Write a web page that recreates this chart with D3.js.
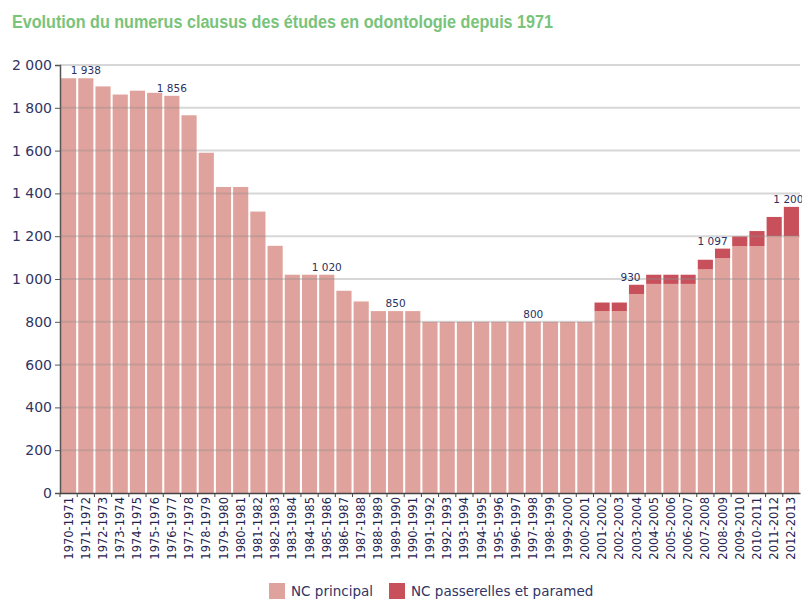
<!DOCTYPE html>
<html>
<head>
<meta charset="utf-8">
<script src="https://cdn.jsdelivr.net/npm/d3@7"></script>
<style>
  body { margin: 0; background: #fff; }
  svg { display: block; }
</style>
</head>
<body>
<div id="chart"></div>
<script>
// school years shown on the x axis
const years = [
  '1970-1971','1971-1972','1972-1973','1973-1974','1974-1975','1975-1976','1976-1977',
  '1977-1978','1978-1979','1979-1980','1980-1981','1981-1982','1982-1983','1983-1984',
  '1984-1985','1985-1986','1986-1987','1987-1988','1988-1989','1989-1990','1990-1991',
  '1991-1992','1992-1993','1993-1994','1994-1995','1995-1996','1996-1997','1997-1998',
  '1998-1999','1999-2000','2000-2001','2001-2002','2002-2003','2003-2004','2004-2005',
  '2005-2006','2006-2007','2007-2008','2008-2009','2009-2010','2010-2011','2011-2012',
  '2012-2013'
];

// NC principal
const ncPrincipal = [
  1938, 1938, 1900, 1862, 1880, 1870, 1856, 1765, 1590, 1430, 1430, 1315, 1155, 1020,
  1020, 1020, 945, 895, 850, 850, 850, 800, 800, 800, 800, 800, 800, 800,
  800, 800, 800, 850, 850, 930, 977, 977, 977, 1045, 1097, 1154, 1154, 1200,
  1200
];

// NC passerelles et paramed (stacked on top)
const ncPasserelles = [
  0, 0, 0, 0, 0, 0, 0, 0, 0, 0, 0, 0, 0, 0,
  0, 0, 0, 0, 0, 0, 0, 0, 0, 0, 0, 0, 0, 0,
  0, 0, 0, 40, 40, 43, 43, 43, 43, 45, 45, 45, 70, 90,
  137
];

// years that carry a value label
const labelYears = ['1971-1972','1976-1977','1985-1986','1989-1990','1997-1998','2003-2004','2008-2009','2012-2013'];

const yTicks = [0, 200, 400, 600, 800, 1000, 1200, 1400, 1600, 1800, 2000];

const seriesNames = ['NC principal', 'NC passerelles et paramed'];
const seriesColors = ['#e0a29c', '#c8505a'];

const width = 802, height = 603;
const margin = {top: 65, right: 2, bottom: 110, left: 60};

const fr = d3.formatLocale({decimal: ',', thousands: ' ', grouping: [3], currency: ['', ' €']});
const fmt = fr.format(',d');

const svg = d3.select('#chart').append('svg')
  .attr('width', width)
  .attr('height', height);

svg.append('text')
  .attr('x', 12)
  .attr('y', 28)
  .attr('fill', '#79c37a')
  .attr('font-family', 'Liberation Sans Narrow, Liberation Sans, sans-serif')
  .attr('font-weight', 'bold')
  .attr('font-size', 18)
  .attr('textLength', 541)
  .attr('lengthAdjust', 'spacingAndGlyphs')
  .text('Evolution du numerus clausus des études en odontologie depuis 1971');

const x = d3.scaleBand()
  .domain(years)
  .range([margin.left, width - margin.right])
  .paddingInner(0.12)
  .paddingOuter(0.06);

const y = d3.scaleLinear()
  .domain([0, 2000])
  .range([height - margin.bottom, margin.top]);

const stackData = years.map((yr, i) => ({year: yr, principal: ncPrincipal[i], passerelles: ncPasserelles[i]}));
const stacked = d3.stack().keys(['principal', 'passerelles'])(stackData);

// bars
svg.append('g')
  .selectAll('g')
  .data(stacked)
  .join('g')
  .attr('fill', (d, i) => seriesColors[i])
  .selectAll('rect')
  .data(d => d.filter(p => p[1] > p[0]))
  .join('rect')
  .attr('x', d => x(d.data.year))
  .attr('width', x.bandwidth())
  .attr('y', d => y(d[1]))
  .attr('height', d => y(d[0]) - y(d[1]));

// gridlines drawn over the bars
svg.append('g')
  .selectAll('line')
  .data(yTicks.filter(t => t > 0))
  .join('line')
  .attr('x1', margin.left)
  .attr('x2', width - margin.right)
  .attr('y1', d => y(d))
  .attr('y2', d => y(d))
  .attr('stroke', 'rgba(140,140,140,0.35)')
  .attr('stroke-width', 2);

// y axis
const yAxis = svg.append('g')
  .attr('transform', `translate(${margin.left},0)`)
  .call(d3.axisLeft(y).tickValues(yTicks).tickFormat(fmt).tickSize(5).tickPadding(3));
yAxis.select('.domain').attr('stroke', '#555').attr('stroke-width', 1.5);
yAxis.selectAll('.tick line').attr('stroke', '#555');
yAxis.selectAll('text')
  .attr('fill', '#2f3566')
  .attr('font-family', 'DejaVu Sans, sans-serif')
  .attr('font-size', 14);

// x axis
const xAxis = svg.append('g')
  .attr('transform', `translate(0,${y(0)})`)
  .call(d3.axisBottom(x).tickSize(0).tickPadding(0));
xAxis.select('.domain').attr('stroke', '#444').attr('stroke-width', 1.5);
xAxis.selectAll('.tick text')
  .attr('transform', 'rotate(-90)')
  .attr('text-anchor', 'end')
  .attr('dy', '0.35em')
  .attr('x', -4)
  .attr('y', 0)
  .attr('fill', '#1f2550')
  .attr('font-family', 'DejaVu Sans, sans-serif')
  .attr('font-size', 11.5);

// small ticks between categories
xAxis.append('g')
  .selectAll('line')
  .data(years)
  .join('line')
  .attr('x1', d => x(d) - x.step() * x.paddingInner() / 2)
  .attr('x2', d => x(d) - x.step() * x.paddingInner() / 2)
  .attr('y1', 0)
  .attr('y2', 4)
  .attr('stroke', '#444');

// value labels
const labelShift = {'2003-2004': -6, '2008-2009': -10, '2012-2013': -3};
svg.append('g')
  .selectAll('text')
  .data(labelYears)
  .join('text')
  .attr('x', d => x(d) + x.bandwidth() / 2 + (labelShift[d] || 0))
  .attr('y', d => {
    const i = years.indexOf(d);
    return y(ncPrincipal[i] + ncPasserelles[i]) - 4;
  })
  .attr('text-anchor', 'middle')
  .attr('fill', '#2a3060')
  .attr('font-family', 'DejaVu Sans, sans-serif')
  .attr('font-size', 10.5)
  .text(d => fmt(ncPrincipal[years.indexOf(d)]));

// legend
const legend = svg.append('g').attr('transform', 'translate(269,583)');
const legendX = [0, 120];
seriesNames.forEach((name, i) => {
  const g = legend.append('g').attr('transform', `translate(${legendX[i]},0)`);
  g.append('rect')
    .attr('width', 16)
    .attr('height', 16)
    .attr('fill', seriesColors[i]);
  g.append('text')
    .attr('x', 22)
    .attr('y', 13)
    .attr('fill', '#2f3566')
    .attr('font-family', 'DejaVu Sans, sans-serif')
    .attr('font-size', 13.5)
    .text(name);
});
</script>
</body>
</html>
